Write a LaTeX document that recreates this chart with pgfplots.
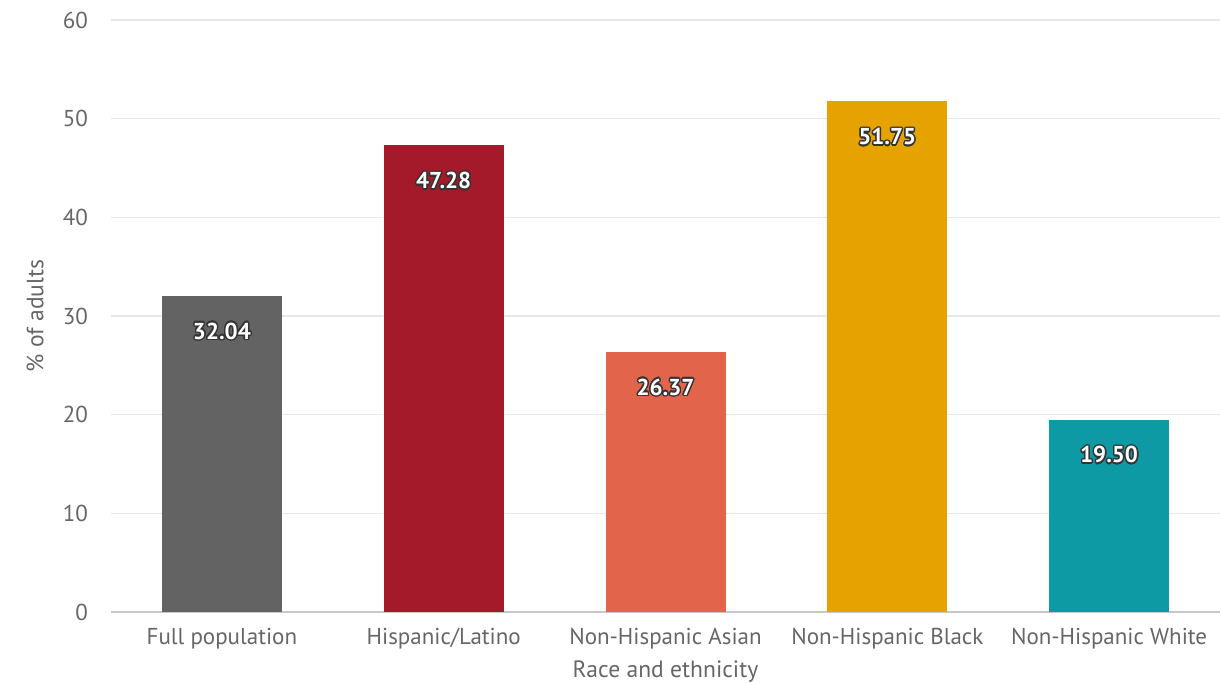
\documentclass[border=0pt]{standalone}
\usepackage{pgfplots}
\pgfplotsset{compat=1.18}
\usepackage{fontspec}
\setmainfont{PT Sans}
\usepackage{contour}
\contourlength{0.7pt}
\definecolor{cgray}{HTML}{636363}
\definecolor{cred}{HTML}{A41A2B}
\definecolor{csalmon}{HTML}{E2654B}
\definecolor{cgold}{HTML}{E6A300}
\definecolor{cteal}{HTML}{0E9AA5}
\definecolor{ctext}{HTML}{666666}
\begin{document}
\begin{tikzpicture}
\path[use as bounding box] (-55.5pt,-35.5pt) rectangle (555pt,306pt);
\begin{axis}[
  at={(0pt,0pt)}, anchor=south west,
  scale only axis, width=554.5pt, height=296pt,
  xmin=-0.5, xmax=4.5, ymin=0, ymax=60,
  ytick={0,10,...,60},
  xtick={0,1,2,3,4},
  xticklabels={Full population,Hispanic/Latino,Non-Hispanic Asian,Non-Hispanic Black,Non-Hispanic White},
  axis line style={draw=none},
  major tick length=0pt,
  ymajorgrids, grid style={draw=black!9, line width=0.6pt},
  extra y ticks={0}, extra y tick labels={},
  extra y tick style={grid style={draw=black!22, line width=0.7pt}},
  tick label style={font=\fontsize{11.5}{13}\selectfont, text=ctext},
  yticklabel style={xshift=-8pt},
  xticklabel style={yshift=-4.5pt},
  /pgf/number format/assume math mode=true,
  ylabel={\% of adults}, xlabel={Race and ethnicity},
  label style={font=\fontsize{11.8}{13}\selectfont, text=ctext},
  ylabel style={at={(axis description cs:-0.0685,0.5)}, anchor=center},
  xlabel style={at={(axis description cs:0.5,-0.1014)}, anchor=center},
  ybar, bar width=60pt, bar shift=0pt,
  nodes near coords={\contour{black!80}{\textcolor{white}{\pgfmathprintnumber[fixed,fixed zerofill,precision=2]{\pgfplotspointmeta}}}},
  every node near coord/.append style={anchor=center, yshift=-18pt, font=\bfseries\fontsize{11.5}{13}\selectfont},
]
\addplot[fill=cgray, draw=none] coordinates {(0,32.04)};
\addplot[fill=cred, draw=none] coordinates {(1,47.28)};
\addplot[fill=csalmon, draw=none] coordinates {(2,26.37)};
\addplot[fill=cgold, draw=none] coordinates {(3,51.75)};
\addplot[fill=cteal, draw=none] coordinates {(4,19.50)};
\end{axis}
\end{tikzpicture}
\end{document}
